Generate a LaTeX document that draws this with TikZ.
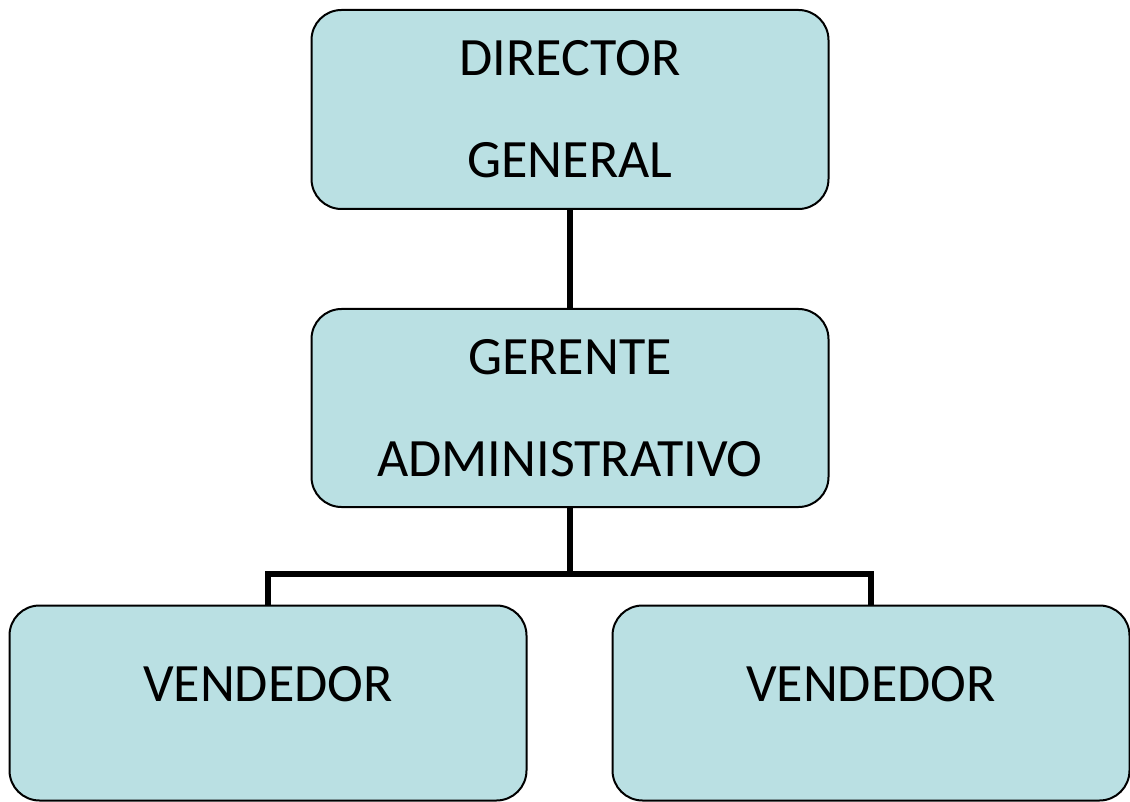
\documentclass[tikz,border=0pt]{standalone}
\usepackage{fontspec}
\setmainfont{Carlito}
\usetikzlibrary{calc}
\definecolor{boxfill}{RGB}{186,224,227}
\tikzset{
  orgbox/.style={draw=black, line width=2pt, fill=boxfill, rounded corners=30pt,
    minimum width=517pt, inner sep=0pt, align=center,
    font=\fontsize{54pt}{102pt}\selectfont},
  link/.style={draw=black, line width=5.5pt}
}
\begin{document}
\begin{tikzpicture}[x=1pt,y=-1pt]
\useasboundingbox (0,0) rectangle (1130,802);
\node[orgbox, minimum height=199pt] (dir) at (570,109.5) {DIRECTOR\\GENERAL};
\node[orgbox, minimum height=198pt] (ger) at (570,408) {GERENTE\\ADMINISTRATIVO};
\node[orgbox, minimum height=195pt, text depth=38pt] (v1) at (268,703) {VENDEDOR};
\node[orgbox, minimum height=195pt, text depth=38pt] (v2) at (871,703) {VENDEDOR};
\coordinate (j) at ($(ger.south)+(0,66)$);
\draw[link] (dir.south) -- (ger.north);
\draw[link] (ger.south) -- (j);
\draw[link] (v1.north) |- (j) -| (v2.north);
\end{tikzpicture}
\end{document}
